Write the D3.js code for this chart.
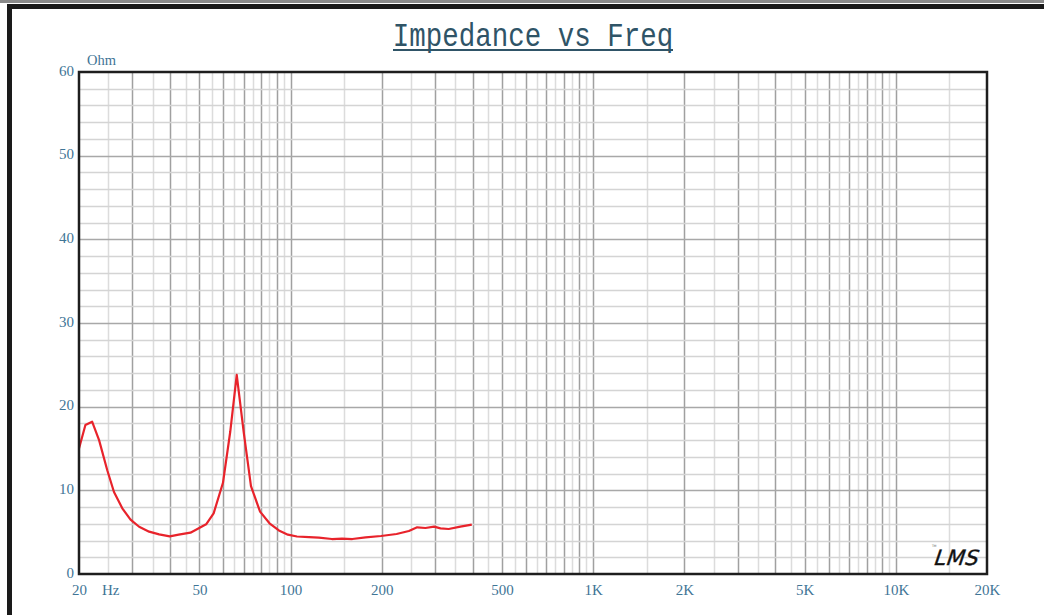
<!DOCTYPE html>
<html>
<head>
<meta charset="utf-8">
<script src="https://cdn.jsdelivr.net/npm/d3@7/dist/d3.min.js"></script>
<style>
  html, body { margin: 0; padding: 0; background: #fff; }
  svg { display: block; }
</style>
</head>
<body>
<svg id="chart" width="1044" height="615"></svg>
<script>
// ---- data ----
const freqHz = [20, 21, 22.1, 23.3, 24.8, 26.1, 27.8, 29.6, 31.6, 34.1, 36.8, 39.9, 42.7, 46.7, 52.6, 55.7, 59.8, 63.2, 66.4, 70, 74, 79.3, 85.2, 91.5, 98, 105, 115, 124, 137, 148, 160, 177, 199, 224, 246, 262, 279, 298, 313, 333, 364, 397];
const impedanceOhm = [15.0, 17.8, 18.2, 16.0, 12.4, 9.8, 7.85, 6.5, 5.65, 5.06, 4.74, 4.5, 4.7, 4.94, 5.94, 7.25, 10.9, 17.0, 23.8, 17.0, 10.5, 7.45, 6.06, 5.2, 4.7, 4.48, 4.4, 4.34, 4.18, 4.22, 4.18, 4.38, 4.54, 4.78, 5.14, 5.58, 5.5, 5.66, 5.46, 5.38, 5.66, 5.9];
const xTickValues = [20, 50, 100, 200, 500, 1000, 2000, 5000, 10000, 20000];
const xTickLabels = ["20", "50", "100", "200", "500", "1K", "2K", "5K", "10K", "20K"];
const yTickValues = [0, 10, 20, 30, 40, 50, 60];
const titleText = "Impedance vs Freq";
const yUnit = "Ohm";
const xUnit = "Hz";

// ---- layout ----
const svg = d3.select("#chart");
const L = 79, R = 987, T = 72, B = 574;
const x = d3.scaleLog().domain([20, 20000]).range([L, R]);
const y = d3.scaleLinear().domain([0, 60]).range([B, T]);
const labelColor = "#3f7596";

svg.append("rect").attr("width", 1044).attr("height", 615).attr("fill", "#fff");

// outer frame
svg.append("rect").attr("x", 0).attr("y", 0).attr("width", 1044).attr("height", 3).attr("fill", "#8a8a8a");
svg.append("path").attr("d", "M9.5,615 V6.5 H1044").attr("fill", "none").attr("stroke", "#1a1a1a").attr("stroke-width", 5);

// title
svg.append("text")
  .attr("transform", "translate(533,46) scale(1,1.22)")
  .attr("text-anchor", "middle")
  .attr("font-family", "Liberation Mono, monospace")
  .attr("font-size", 27.5)
  .attr("fill", "#2f5467")
  .text(titleText);
svg.append("line").attr("x1", 393).attr("x2", 673).attr("y1", 50).attr("y2", 50)
  .attr("stroke", "#2f5467").attr("stroke-width", 2);

// grid: vertical lines at half-steps of each decade
const gridG = svg.append("g");
const vLines = [];
[10, 100, 1000, 10000].forEach(d => {
  for (let k = 1.5; k <= 10.001; k += 0.5) {
    const f = k * d;
    if (f > 20 && f < 20000) vLines.push({ f, major: Math.abs(k - Math.round(k)) < 1e-6 });
  }
});
gridG.selectAll("line.v").data(vLines).join("line")
  .attr("x1", d => Math.round(x(d.f)) + 0.5).attr("x2", d => Math.round(x(d.f)) + 0.5)
  .attr("y1", T).attr("y2", B)
  .attr("stroke", d => d.major ? "#a0a0a0" : "#dcdcdc")
  .attr("stroke-width", 1.5);

const hLines = d3.range(2, 60, 2);
gridG.selectAll("line.h").data(hLines).join("line")
  .attr("x1", L).attr("x2", R)
  .attr("y1", d => Math.round(y(d)) + 0.5).attr("y2", d => Math.round(y(d)) + 0.5)
  .attr("stroke", d => d % 10 === 0 ? "#a8a8a8" : "#d4d4d4")
  .attr("stroke-width", 1.5);

// curve
const line = d3.line().x((d, i) => x(freqHz[i])).y(d => y(d));
svg.append("path").datum(impedanceOhm)
  .attr("d", line)
  .attr("fill", "none")
  .attr("stroke", "#e8232b")
  .attr("stroke-width", 2.2)
  .attr("stroke-linejoin", "round");

// plot frame
svg.append("rect").attr("x", L).attr("y", T).attr("width", R - L).attr("height", B - T)
  .attr("fill", "none").attr("stroke", "#1e1e1e").attr("stroke-width", 2.5);

// axes
const xAxis = d3.axisBottom(x).tickValues(xTickValues).tickFormat((d, i) => xTickLabels[i]).tickSize(0).tickPadding(0);
const xg = svg.append("g").attr("transform", `translate(0,${B})`).call(xAxis);
xg.select(".domain").remove();
xg.selectAll("text").attr("y", 21).attr("dy", 0)
  .attr("font-family", "Liberation Serif, serif").attr("font-size", 15).attr("fill", labelColor);

const yAxis = d3.axisLeft(y).tickValues(yTickValues).tickSize(0).tickPadding(0);
const yg = svg.append("g").attr("transform", `translate(${L},0)`).call(yAxis);
yg.select(".domain").remove();
yg.selectAll("text").attr("x", -5).attr("dy", "0.2em")
  .attr("font-family", "Liberation Serif, serif").attr("font-size", 15).attr("fill", labelColor);

svg.append("text").attr("x", 87).attr("y", 65)
  .attr("font-family", "Liberation Serif, serif").attr("font-size", 14.5).attr("fill", labelColor).text(yUnit);
svg.append("text").attr("x", 102).attr("y", 595)
  .attr("font-family", "Liberation Serif, serif").attr("font-size", 15).attr("fill", labelColor).text(xUnit);

// LMS logo
svg.append("text").attr("transform", "translate(934,565) skewX(-8)")
  .attr("font-family", "DejaVu Sans, sans-serif").attr("font-style", "italic")
  .attr("font-size", 21).attr("fill", "#111").attr("letter-spacing", 0.5)
  .attr("stroke", "#111").attr("stroke-width", 0.4)
  .text("LMS");
svg.append("text").attr("x", 932).attr("y", 547)
  .attr("font-family", "DejaVu Sans, sans-serif").attr("font-size", 3).attr("fill", "#555").text("TM");
</script>
</body>
</html>
